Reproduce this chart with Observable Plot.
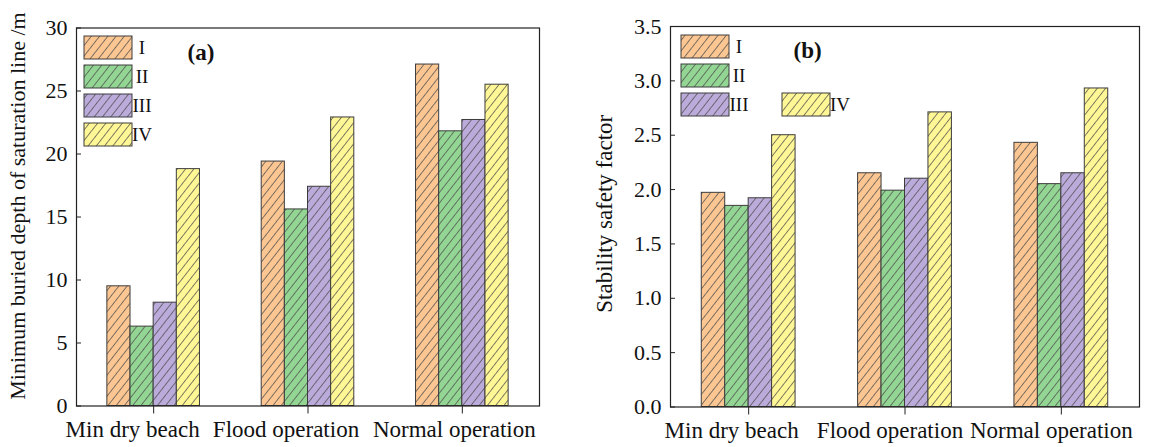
<!DOCTYPE html>
<html>
<head>
<meta charset="utf-8">
<script src="https://cdn.jsdelivr.net/npm/d3@7"></script>
<script src="https://cdn.jsdelivr.net/npm/@observablehq/plot@0.6"></script>
<style>
  body { margin: 0; background: #fff; }
  #wrap { position: relative; width: 1159px; height: 447px; overflow: hidden; }
  #wrap svg { position: absolute; top: 0; }
  #wrap svg, #wrap svg text, #wrap svg g { font-family: "Liberation Serif", serif !important; }
</style>
</head>
<body>
<div id="wrap"></div>
<script>
// ---------- data ----------
const categories = ["Min dry beach", "Flood operation", "Normal operation"];
const series = ["I", "II", "III", "IV"];

// (a) Minimum buried depth of saturation line /m
const depthI   = [9.5, 19.4, 27.1];
const depthII  = [6.3, 15.6, 21.8];
const depthIII = [8.2, 17.4, 22.7];
const depthIV  = [18.8, 22.9, 25.5];

// (b) Stability safety factor
const safetyI   = [1.97, 2.15, 2.43];
const safetyII  = [1.85, 1.99, 2.05];
const safetyIII = [1.92, 2.10, 2.15];
const safetyIV  = [2.50, 2.71, 2.93];

const depthTicks  = [0, 5, 10, 15, 20, 25, 30];
const safetyTicks = [0, 0.5, 1.0, 1.5, 2.0, 2.5, 3.0, 3.5];

const colors = ["#FCC692", "#93D694", "#BBABDA", "#FFF695"];

// ---------- drawing ----------
const FONT = "Liberation Serif";

function buildRows(valueSets) {
  const rows = [];
  categories.forEach((c, i) => {
    series.forEach((s, j) => {
      const x1 = i + 0.5 - 0.3 + j * 0.15;
      rows.push({category: c, series: s, value: valueSets[j][i], x1, x2: x1 + 0.15});
    });
  });
  return rows;
}

function panel(cfg) {
  const rows = buildRows(cfg.values);
  const catTicks = categories.map((c, i) => i + 0.5);
  const svg = Plot.plot({
    width: cfg.width,
    height: 447,
    marginLeft: cfg.marginLeft,
    marginRight: cfg.marginRight,
    marginTop: cfg.marginTop,
    marginBottom: cfg.marginBottom,
    style: {fontFamily: FONT, fontSize: "22px", color: "#111", background: "transparent", overflow: "visible"},
    x: {domain: [0, 3], label: null},
    y: {domain: cfg.yDomain, label: null},
    color: {type: "ordinal", domain: series, range: series.map(s => `url(#${cfg.id}-${s})`)},
    marks: [
      Plot.rectY(rows, {x1: "x1", x2: "x2", y1: 0, y2: "value", fill: "series", stroke: "#3c3c3c", strokeWidth: 1}),
      Plot.frame({stroke: "#222", strokeWidth: 1.2}),
      Plot.axisY(cfg.yTicks, {tickSize: -5, tickPadding: 14, tickFormat: cfg.yFormat, fontSize: 22, stroke: "#222"}),
      Plot.axisX(catTicks, {tickSize: 8, tickFormat: () => "", stroke: "#222"}),
      ...categories.map((c, i) => Plot.axisX([catTicks[i]], {
        tickSize: 0, tickPadding: 15, tickFormat: () => c, fontSize: 23, dx: cfg.labelDx[i]
      })),
      Plot.text([cfg.yLabel], {
        text: d => d, frameAnchor: "left", rotate: -90, textAnchor: "middle",
        dx: cfg.yLabelDx, dy: cfg.yLabelDy, fontSize: cfg.yLabelSize, fill: "#111"
      }),
      Plot.text([cfg.tag], {
        text: d => d, frameAnchor: "top-left", textAnchor: "start", lineAnchor: "middle",
        dx: cfg.tagDx, dy: cfg.tagDy, fontSize: 23, fontWeight: "bold", fill: "#111"
      })
    ]
  });
  svg.style.left = cfg.left + "px";

  // hatch patterns
  const root = d3.select(svg);
  const defs = root.insert("defs", ":first-child");
  series.forEach((s, j) => {
    const p = defs.append("pattern")
      .attr("id", `${cfg.id}-${s}`)
      .attr("patternUnits", "userSpaceOnUse")
      .attr("width", 6.5).attr("height", 6.5)
      .attr("patternTransform", "rotate(38)");
    p.append("rect").attr("width", 6.5).attr("height", 6.5).attr("fill", colors[j]);
    p.append("line").attr("x1", 3.25).attr("y1", -1).attr("x2", 3.25).attr("y2", 7.5)
      .attr("stroke", "#4a4a4a").attr("stroke-width", 0.7);
  });

  // legend
  const lg = root.append("g").attr("font-size", 19).attr("fill", "#111");
  cfg.legendPos.forEach(([lx, ly], j) => {
    lg.append("rect").attr("x", lx).attr("y", ly).attr("width", 48).attr("height", 23)
      .attr("fill", `url(#${cfg.id}-${series[j]})`).attr("stroke", "#3c3c3c").attr("stroke-width", 1);
    lg.append("text").attr("x", lx + 58).attr("y", ly + 11.5).attr("dy", "0.35em").text(series[j]);
  });

  document.getElementById("wrap").appendChild(svg);
}

panel({
  id: "pa", left: 0, width: 560,
  marginLeft: 76, marginRight: 21, marginTop: 27.5, marginBottom: 41.5,
  values: [depthI, depthII, depthIII, depthIV],
  yDomain: [0, 30], yTicks: depthTicks, yFormat: d3.format("d"),
  yLabel: "Minimum buried depth of saturation line /m", yLabelSize: 22, yLabelDx: -59, yLabelDy: -11,
  labelDx: [-21, -22, -8],
  tag: "(a)", tagDx: 111, tagDy: 25,
  legendPos: [[84, 36], [84, 65], [84, 94], [84, 123]]
});

panel({
  id: "pb", left: 560, width: 599,
  marginLeft: 110, marginRight: 20, marginTop: 26, marginBottom: 40.5,
  values: [safetyI, safetyII, safetyIII, safetyIV],
  yDomain: [0, 3.5], yTicks: safetyTicks, yFormat: d3.format(".1f"),
  yLabel: "Stability safety factor", yLabelSize: 23, yLabelDx: -66, yLabelDy: -3,
  labelDx: [-17, -15, -10],
  tag: "(b)", tagDx: 123, tagDy: 24,
  legendPos: [[121, 35], [121, 64], [121, 93], [222, 93]]
});
</script>
</body>
</html>
